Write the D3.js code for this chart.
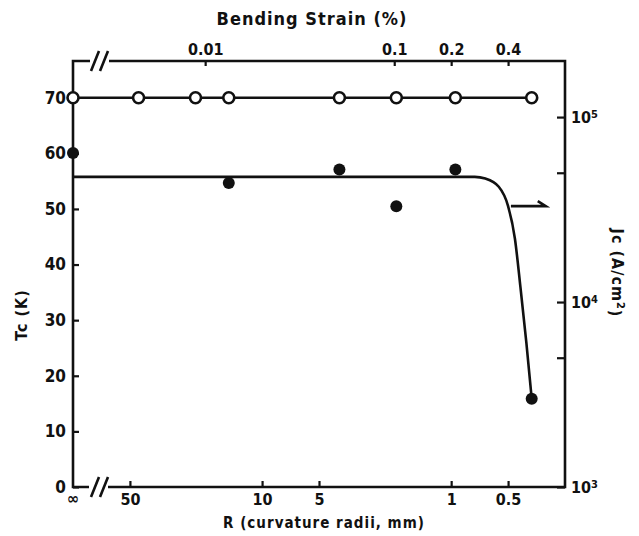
<!DOCTYPE html>
<html>
<head>
<meta charset="utf-8">
<script src="https://cdn.jsdelivr.net/npm/d3@7/dist/d3.min.js"></script>
<style>
  body { margin: 0; background: #fff; }
  svg text { font-family: "DejaVu Sans Condensed", "DejaVu Sans", sans-serif; font-stretch: condensed; font-weight: bold; fill: #111; }
</style>
</head>
<body>
<svg id="chart" width="639" height="536"></svg>
<script>
// Tc (open circles), R in mm, Infinity = flat tape
var tcRadii = [Infinity, 45, 22.5, 15, 3.9, 1.95, 0.95, 0.375];
var tcValues = [70, 70, 70, 70, 70, 70, 70, 70];

// Jc (filled circles), A/cm2
var jcRadii = [Infinity, 15, 3.9, 1.95, 0.95, 0.375];
var jcValues = [6.4e4, 4.4e4, 5.2e4, 3.3e4, 5.2e4, 3.0e3];

// hand drawn guide line through Jc
var guideRadii = [Infinity, 0.75, 0.66, 0.56, 0.5, 0.46, 0.43, 0.40, 0.375];
var guideJc = [4.75e4, 4.75e4, 4.65e4, 4.2e4, 3.3e4, 2.2e4, 1.2e4, 6.0e3, 3.0e3];

var radiusTicks = [50, 10, 5, 1, 0.5];
var strainTicks = [0.01, 0.1, 0.2, 0.4];
var tcTicks = [0, 10, 20, 30, 40, 50, 60, 70];
var jcTicks = [1e3, 5e3, 1e4, 5e4, 1e5];

(function() {
var pLeft = 73, pRight = 565, pTop = 61, pBottom = 487;
var svg = d3.select("#chart");

var x = d3.scaleLog().domain([100, 0.25]).range([pLeft, pRight]);
// strain (%) = 0.2 / R(mm)
var xTop = d3.scaleLog().domain([0.2 / 100, 0.2 / 0.25]).range([pLeft, pRight]);
var yTc = d3.scaleLinear().domain([0, 76.6]).range([pBottom, pTop]);
var yJc = d3.scaleLog().domain([1e3, 2.01e5]).range([pBottom, pTop]);

function xr(r) { return r === Infinity ? pLeft : x(r); }

// frame with axis breaks
var frame = svg.append("g").attr("fill", "none").attr("stroke", "#111").attr("stroke-width", 2.6);
frame.append("path").attr("d",
  "M" + 90 + "," + pTop + "H" + pLeft + "V" + pBottom + "H" + 89);
frame.append("path").attr("d",
  "M" + 109 + "," + pTop + "H" + pRight + "V" + pBottom + "H" + 108);
[pTop, pBottom].forEach(function(yy) {
  [95, 104].forEach(function(xx) {
    frame.append("line").attr("x1", xx - 4).attr("y1", yy + 10)
      .attr("x2", xx + 4).attr("y2", yy - 10);
  });
});

function styleAxis(g, size) {
  g.select(".domain").remove();
  g.selectAll(".tick line").attr("stroke", "#111").attr("stroke-width", 2.2);
  g.selectAll(".tick text").attr("font-size", size).attr("fill", "#111");
  g.attr("font-family", null).attr("font-size", null);
}

svg.append("g").attr("transform", "translate(0," + pBottom + ")")
  .call(d3.axisBottom(x).tickValues(radiusTicks).tickSize(-6).tickPadding(7)
    .tickFormat(function(d) { return String(d); }))
  .call(styleAxis, 16);

svg.append("g").attr("transform", "translate(0," + pTop + ")")
  .call(d3.axisTop(xTop).tickValues(strainTicks).tickSize(-5).tickPadding(6)
    .tickFormat(function(d) { return String(d); }))
  .call(styleAxis, 16);

svg.append("g").attr("transform", "translate(" + pLeft + ",0)")
  .call(d3.axisLeft(yTc).tickValues(tcTicks).tickSize(-6).tickPadding(7))
  .call(styleAxis, 17);

var rightAxis = svg.append("g").attr("transform", "translate(" + pRight + ",0)")
  .call(d3.axisRight(yJc).tickValues(jcTicks).tickSize(-8).tickPadding(6)
    .tickFormat(function() { return ""; }))
  .call(styleAxis, 16);
rightAxis.selectAll(".tick text").each(function(d) {
  var e = Math.round(Math.log10(d));
  if (Math.pow(10, e) !== d) return;
  var t = d3.select(this);
  t.append("tspan").text("10");
  t.append("tspan").attr("dy", "-0.45em").attr("font-size", 11).text(e);
});

// infinity label
svg.append("text").attr("x", pLeft).attr("y", pBottom + 17)
  .attr("text-anchor", "middle").attr("font-size", 16).text("\u221e");

// titles
svg.append("text").attr("x", 312).attr("y", 25).attr("text-anchor", "middle")
  .attr("font-size", 18).attr("letter-spacing", 1).text("Bending Strain (%)");
svg.append("text").attr("x", 324).attr("y", 528).attr("text-anchor", "middle")
  .attr("font-size", 15).attr("letter-spacing", 1).text("R (curvature radii, mm)");
svg.append("text").attr("transform", "translate(27,315) rotate(-90)")
  .attr("text-anchor", "middle").attr("font-size", 16).attr("letter-spacing", 1).text("Tc (K)");
svg.append("text").attr("transform", "translate(612,273) rotate(90)")
  .attr("text-anchor", "middle").attr("font-size", 16).attr("letter-spacing", 1)
  .call(function(t) {
    t.append("tspan").text("Jc (A/cm");
    t.append("tspan").attr("dy", "-0.45em").attr("font-size", 11).text("2");
    t.append("tspan").attr("dy", "0.45em").text(")");
  });

// Tc line and points
var tcPts = tcRadii.map(function(r, i) { return [xr(r), yTc(tcValues[i])]; });
svg.append("path").attr("d", d3.line()(tcPts))
  .attr("fill", "none").attr("stroke", "#111").attr("stroke-width", 2.6);
svg.append("g").selectAll("circle").data(tcPts).join("circle")
  .attr("cx", function(d) { return d[0]; }).attr("cy", function(d) { return d[1]; })
  .attr("r", 5.5).attr("fill", "#fff").attr("stroke", "#111").attr("stroke-width", 2.6);

// Jc guide curve
var guidePts = guideRadii.map(function(r, i) { return [xr(r), yJc(guideJc[i])]; });
svg.append("path").attr("d", d3.line().curve(d3.curveMonotoneX)(guidePts))
  .attr("fill", "none").attr("stroke", "#111").attr("stroke-width", 2.6);

svg.append("g").selectAll("circle").data(jcRadii).join("circle")
  .attr("cx", function(d) { return xr(d); })
  .attr("cy", function(d, i) { return yJc(jcValues[i]); })
  .attr("r", 6).attr("fill", "#111");

// arrow pointing to the right axis
var ay = yJc(3.3e4), ax1 = x(0.483), ax2 = x(0.316);
svg.append("path")
  .attr("d", "M" + ax1 + "," + ay + "H" + ax2 + "L" + (ax2 - 8) + "," + (ay - 5))
  .attr("fill", "none").attr("stroke", "#111").attr("stroke-width", 2.6);
})();
</script>
</body>
</html>
